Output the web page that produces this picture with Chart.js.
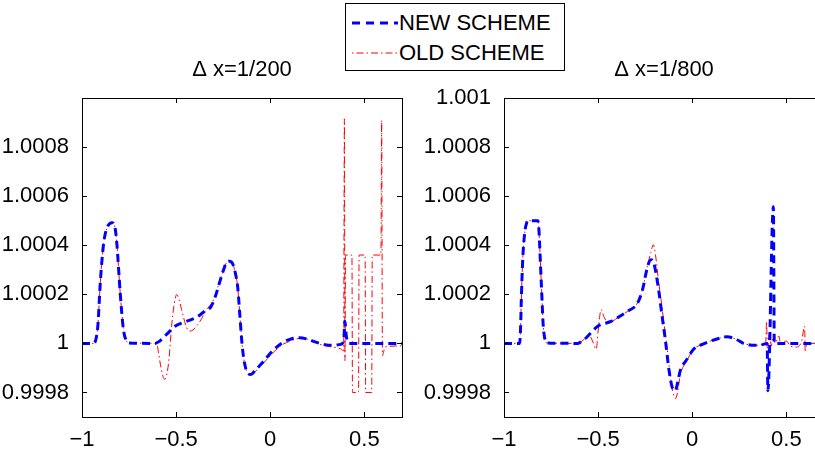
<!DOCTYPE html>
<html>
<head>
<meta charset="utf-8">
<script src="https://cdn.jsdelivr.net/npm/chart.js@4.4.1/dist/chart.umd.min.js"></script>
<style>
  html, body { margin: 0; padding: 0; background: #fff; }
  body { width: 815px; height: 453px; overflow: hidden; position: relative; font-family: 'Liberation Sans', Arial, Helvetica, sans-serif; }
  .wrap { position: absolute; top: 0; height: 453px; }
  #w1 { left: 0; width: 410px; }
  #w2 { left: 420px; width: 420px; }
  .legend { position: absolute; left: 345px; top: 3px; width: 218px; height: 66px; border: 1px solid #000; background: #fff; }
  .legend svg { position: absolute; left: 6px; width: 46px; height: 10px; }
  .legend span { position: absolute; left: 53px; font-size: 22px; line-height: 24px; color: #000; white-space: nowrap; }
</style>
</head>
<body>
<div class="wrap" id="w1"><canvas id="c1"></canvas></div>
<div class="wrap" id="w2"><canvas id="c2"></canvas></div>
<div class="legend">
  <svg style="top:14px" viewBox="0 0 46 10"><line x1="0" y1="5" x2="46" y2="5" stroke="#0000ff" stroke-width="3" stroke-dasharray="8 6"/></svg>
  <span style="top:7px">NEW SCHEME</span>
  <svg style="top:44px" viewBox="0 0 46 10"><line x1="0" y1="5" x2="46" y2="5" stroke="#ff0000" stroke-width="1" stroke-dasharray="1.5 3 7 3"/></svg>
  <span style="top:37px">OLD SCHEME</span>
</div>
<script>
// Δx = 1/200 panel
const newLeft = [[-1,1],[-0.94,1],[-0.925,1.00002],[-0.915,1.00008],[-0.903,1.000246],[-0.885,1.000408],[-0.868,1.000469],[-0.841,1.000492],[-0.824,1.000469],[-0.815,1.000408],[-0.797,1.000205],[-0.78,1.000057],[-0.765,1.000012],[-0.75,1.000002],[-0.612,1],[-0.59,1.000008],[-0.568,1.000023],[-0.54,1.000045],[-0.506,1.00007],[-0.45,1.000088],[-0.392,1.000106],[-0.35,1.00013],[-0.314,1.000151],[-0.29,1.000195],[-0.27,1.000246],[-0.25,1.000295],[-0.234,1.000327],[-0.217,1.000335],[-0.2,1.000325],[-0.185,1.000285],[-0.173,1.00023],[-0.16,1.0001],[-0.15,1],[-0.138,0.999925],[-0.12,0.99988],[-0.103,0.999873],[-0.08,0.99989],[-0.041,0.999922],[0.012,0.999969],[0.065,1.000003],[0.11,1.000018],[0.153,1.000023],[0.2,1.000017],[0.242,1.000005],[0.29,0.999995],[0.33,0.999992],[0.374,0.999996],[0.39,1.00001],[0.397,1.00009],[0.404,1.00003],[0.418,1],[0.7,1]];
const oldLeft = [[-1,1],[-0.94,1],[-0.925,1.00002],[-0.915,1.00008],[-0.903,1.000246],[-0.885,1.000408],[-0.868,1.000469],[-0.841,1.000492],[-0.824,1.000469],[-0.815,1.000408],[-0.797,1.000205],[-0.78,1.000057],[-0.765,1.000012],[-0.75,1.000002],[-0.612,1],[-0.6,0.99999],[-0.591,0.999949],[-0.58,0.9999],[-0.568,0.999861],[-0.56,0.999854],[-0.548,0.99988],[-0.538,0.999935],[-0.524,1.00007],[-0.51,1.00016],[-0.497,1.000199],[-0.485,1.00018],[-0.471,1.000138],[-0.444,1.000064],[-0.427,1.00005],[-0.41,1.000055],[-0.392,1.00007],[-0.365,1.0001],[-0.339,1.000138],[-0.314,1.00016],[-0.29,1.0002],[-0.27,1.00025],[-0.25,1.000295],[-0.234,1.000327],[-0.217,1.000335],[-0.2,1.000325],[-0.185,1.000285],[-0.173,1.00023],[-0.16,1.0001],[-0.15,1],[-0.138,0.999925],[-0.12,0.99988],[-0.1,0.999873],[-0.08,0.999885],[-0.041,0.999915],[0.012,0.99996],[0.065,0.999995],[0.11,1.00001],[0.153,1.00002],[0.2,1.000017],[0.242,1.000003],[0.29,0.99999],[0.33,0.999985],[0.374,0.999978],[0.39,0.99997],[0.394,1.000915],[0.397,0.99993],[0.4,1.00036],[0.434,1.00036],[0.437,0.9998],[0.469,0.9998],[0.472,1.00036],[0.504,1.00036],[0.507,0.9998],[0.539,0.9998],[0.542,1.00036],[0.588,1.00036],[0.592,1.000909],[0.596,0.99995],[0.61,0.999985],[0.7,0.99999]];

// Δx = 1/800 panel
const newRight = [[-1,1],[-0.917,1],[-0.912,1.00006],[-0.908,1.000178],[-0.9,1.00035],[-0.89,1.00045],[-0.88,1.00049],[-0.873,1.0005],[-0.82,1.0005],[-0.815,1.00047],[-0.811,1.000408],[-0.805,1.0003],[-0.798,1.000178],[-0.793,1.00009],[-0.788,1.000043],[-0.775,1.000002],[-0.608,1],[-0.585,1.00001],[-0.563,1.000023],[-0.53,1.00005],[-0.502,1.00007],[-0.431,1.00009],[-0.39,1.000108],[-0.343,1.000131],[-0.29,1.000165],[-0.264,1.000219],[-0.237,1.000314],[-0.219,1.000341],[-0.205,1.00033],[-0.193,1.000287],[-0.177,1.00021],[-0.16,1.00011],[-0.143,1.000016],[-0.125,0.9999],[-0.108,0.999825],[-0.09,0.999807],[-0.075,0.99985],[-0.064,0.999888],[-0.028,0.999935],[0.007,0.999976],[0.05,0.999995],[0.095,1.000009],[0.14,1.00002],[0.184,1.000027],[0.23,1.000018],[0.272,1],[0.334,0.999992],[0.378,0.999996],[0.398,1],[0.402,0.999807],[0.431,1.000557],[0.436,1],[0.7,1]];
const oldRight = [[-1,1],[-0.917,1],[-0.912,1.00006],[-0.908,1.000178],[-0.9,1.00035],[-0.89,1.00045],[-0.88,1.00049],[-0.873,1.0005],[-0.82,1.0005],[-0.815,1.00047],[-0.811,1.000408],[-0.805,1.0003],[-0.798,1.000178],[-0.793,1.00009],[-0.788,1.000043],[-0.775,1.000002],[-0.608,1],[-0.585,1.00001],[-0.563,1.000023],[-0.545,1.00003],[-0.53,1.00001],[-0.51,0.999976],[-0.5,1.00005],[-0.484,1.000138],[-0.47,1.00011],[-0.455,1.000092],[-0.431,1.00009],[-0.39,1.000108],[-0.343,1.000131],[-0.29,1.000165],[-0.264,1.00022],[-0.237,1.00032],[-0.22,1.00037],[-0.207,1.000402],[-0.195,1.00036],[-0.18,1.00026],[-0.166,1.00018],[-0.15,1.00008],[-0.135,0.99999],[-0.12,0.99989],[-0.105,0.99981],[-0.09,0.999775],[-0.078,0.9998],[-0.064,0.99987],[-0.028,0.99993],[0.007,0.999976],[0.05,0.999995],[0.095,1.000009],[0.14,1.00002],[0.184,1.000027],[0.23,1.000018],[0.272,1],[0.334,0.999992],[0.378,0.999996],[0.39,1],[0.395,1.00009],[0.399,0.99998],[0.41,1.00004],[0.42,0.99999],[0.43,1.00003],[0.44,1],[0.46,1.00003],[0.47,0.999995],[0.5,1.00001],[0.52,0.99999],[0.55,0.999985],[0.58,1.000005],[0.597,1.00007],[0.6,0.99997],[0.61,1],[0.7,1]];

const xTicks = [-1, -0.5, 0, 0.5];
const xTickLabels = ['\u22121', '\u22120.5', '0', '0.5'];
const yTicksLeft = [0.9998, 1, 1.0002, 1.0004, 1.0006, 1.0008];
const yTickLabelsLeft = ['0.9998', '1', '1.0002', '1.0004', '1.0006', '1.0008'];
const yTicksRight = [0.9998, 1, 1.0002, 1.0004, 1.0006, 1.0008, 1.001];
const yTickLabelsRight = ['0.9998', '1', '1.0002', '1.0004', '1.0006', '1.0008', '1.001'];

Chart.defaults.font.family = "'Liberation Sans', Arial, Helvetica, sans-serif";
Chart.defaults.color = '#000';

// MATLAB-style box with inward ticks
const boxTicks = {
  id: 'boxTicks',
  afterDatasetsDraw(chart) {
    const { ctx, chartArea: a, scales: { x, y } } = chart;
    ctx.save();
    ctx.strokeStyle = '#000';
    ctx.lineWidth = 1;
    ctx.beginPath();
    x.ticks.forEach(t => {
      const px = Math.round(x.getPixelForValue(t.value)) + 0.5;
      ctx.moveTo(px, a.bottom); ctx.lineTo(px, a.bottom - 5);
      ctx.moveTo(px, a.top); ctx.lineTo(px, a.top + 5);
    });
    y.ticks.forEach(t => {
      const py = Math.round(y.getPixelForValue(t.value)) + 0.5;
      ctx.moveTo(a.left, py); ctx.lineTo(a.left + 5, py);
      ctx.moveTo(a.right, py); ctx.lineTo(a.right - 5, py);
    });
    ctx.stroke();
    ctx.strokeRect(Math.round(a.left) + 0.5, Math.round(a.top) + 0.5, Math.round(a.right - a.left), Math.round(a.bottom - a.top));
    ctx.restore();
  }
};

function makePanel(id, title, newPts, oldPts, yTicks, yLabels, yWidth, padRight) {
  const toXY = pts => pts.map(p => ({ x: p[0], y: p[1] }));
  return new Chart(document.getElementById(id), {
    type: 'line',
    data: {
      datasets: [
        { label: 'NEW SCHEME', data: toXY(newPts), borderColor: '#0000ff', borderWidth: 3, borderDash: [8, 5], pointRadius: 0, cubicInterpolationMode: 'monotone', fill: false },
        { label: 'OLD SCHEME', data: toXY(oldPts), borderColor: '#ff0000', borderWidth: 1, borderDash: [7, 3, 1.5, 3], pointRadius: 0, cubicInterpolationMode: 'monotone', fill: false },
      ],
    },
    options: {
      responsive: true, maintainAspectRatio: false, animation: false,
      layout: { padding: { left: 0, right: padRight, top: 0, bottom: 0 } },
      plugins: {
        legend: { display: false },
        tooltip: { enabled: false },
        title: { display: true, text: title, fullSize: false, color: '#000', font: { size: 22, weight: 'normal' }, padding: { top: 56.8, bottom: 14.8 } },
      },
      scales: {
        x: {
          type: 'linear', min: -1, max: 0.7,
          grid: { display: false }, border: { display: false },
          afterBuildTicks: s => { s.ticks = xTicks.map(v => ({ value: v })); },
          afterFit: s => { s.height = 36; },
          ticks: { font: { size: 22 }, color: '#000', padding: 2, maxRotation: 0, autoSkip: false, callback: (v, i) => xTickLabels[i] },
        },
        y: {
          type: 'linear', min: 0.9997, max: 1.001,
          grid: { display: false }, border: { display: false },
          afterBuildTicks: s => { s.ticks = yTicks.map(v => ({ value: v })); },
          afterFit: s => { s.width = yWidth; },
          ticks: { font: { size: 22 }, color: '#000', padding: 5, autoSkip: false, callback: (v, i) => yLabels[i] },
        },
      },
    },
    plugins: [boxTicks],
  });
}

makePanel('c1', '\u0394 x=1/200', newLeft, oldLeft, yTicksLeft, yTickLabelsLeft, 82, 8);
makePanel('c2', '\u0394 x=1/800', newRight, oldRight, yTicksRight, yTickLabelsRight, 84, 16);
</script>
</body>
</html>
